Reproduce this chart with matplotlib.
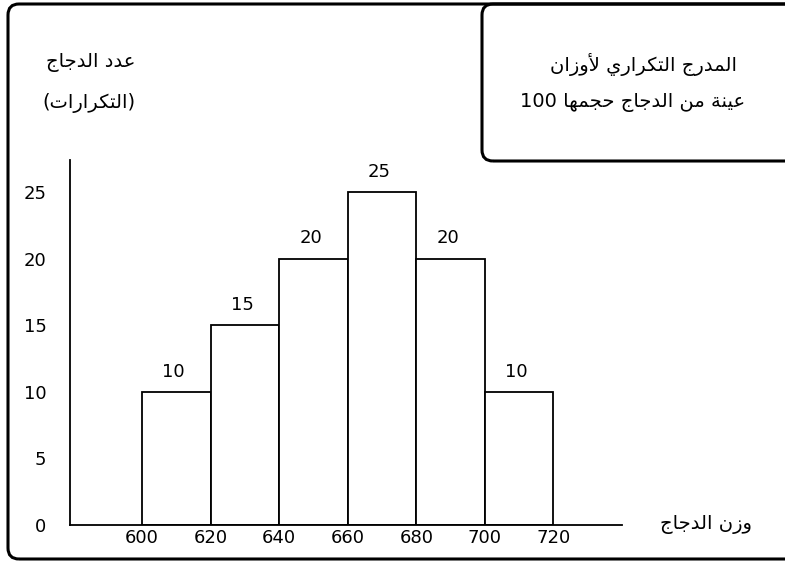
"""Histogram of chicken weights (Arabic labels)."""

import matplotlib
matplotlib.use("Agg")
import matplotlib.pyplot as plt
from matplotlib.patches import FancyBboxPatch

# data
bin_edges = [600, 620, 640, 660, 680, 700, 720]
counts = [10, 15, 20, 25, 20, 10]
y_ticks = [0, 5, 10, 15, 20, 25]

title_line1 = "المدرج التكراري لأوزان"
title_line2 = "عينة من الدجاج حجمها"
sample_size = "100"
ylabel_line1 = "عدد الدجاج"
ylabel_line2 = "التكرارات"
xlabel = "وزن الدجاج"

# Arabic presentation forms: isolated, final, initial, medial
FORMS = {
    'ا': ('\uFE8D', '\uFE8E', None, None),
    'أ': ('\uFE83', '\uFE84', None, None),
    'ة': ('\uFE93', '\uFE94', None, None),
    'ت': ('\uFE95', '\uFE96', '\uFE97', '\uFE98'),
    'ج': ('\uFE9D', '\uFE9E', '\uFE9F', '\uFEA0'),
    'ح': ('\uFEA1', '\uFEA2', '\uFEA3', '\uFEA4'),
    'د': ('\uFEA9', '\uFEAA', None, None),
    'ر': ('\uFEAD', '\uFEAE', None, None),
    'ز': ('\uFEAF', '\uFEB0', None, None),
    'ع': ('\uFEC9', '\uFECA', '\uFECB', '\uFECC'),
    'ك': ('\uFED9', '\uFEDA', '\uFEDB', '\uFEDC'),
    'ل': ('\uFEDD', '\uFEDE', '\uFEDF', '\uFEE0'),
    'م': ('\uFEE1', '\uFEE2', '\uFEE3', '\uFEE4'),
    'ن': ('\uFEE5', '\uFEE6', '\uFEE7', '\uFEE8'),
    'ه': ('\uFEE9', '\uFEEA', '\uFEEB', '\uFEEC'),
    'و': ('\uFEED', '\uFEEE', None, None),
    'ي': ('\uFEF1', '\uFEF2', '\uFEF3', '\uFEF4'),
}
LAM_ALEF = {'ا': ('\uFEFB', '\uFEFC'), 'أ': ('\uFEF7', '\uFEF8')}


def dual(c):
    return c in FORMS and FORMS[c][2] is not None


def shape(text):
    """Very small Arabic shaper: contextual forms + visual (reversed) order."""
    out = []
    i = 0
    while i < len(text):
        c = text[i]
        prev = text[i - 1] if i > 0 else ''
        if c not in FORMS:
            out.append(c)
            i += 1
            continue
        join_prev = dual(prev)
        if c == 'ل' and i + 1 < len(text) and text[i + 1] in LAM_ALEF:
            out.append(LAM_ALEF[text[i + 1]][1 if join_prev else 0])
            i += 2
            continue
        nxt = text[i + 1] if i + 1 < len(text) else ''
        join_next = dual(c) and nxt in FORMS
        iso, fin, ini, med = FORMS[c]
        if join_prev and join_next:
            out.append(med)
        elif join_prev:
            out.append(fin)
        elif join_next:
            out.append(ini)
        else:
            out.append(iso)
        i += 1
    return ''.join(reversed(out))


plt.rcParams['font.family'] = ['DejaVu Sans']

W, H = 785, 562
fig = plt.figure(figsize=(W / 100, H / 100), dpi=100)

# outer frame and title box (figure pixel coords -> fraction)
def fx(px):
    return px / W


def fy(py):
    return 1 - py / H


frame = FancyBboxPatch((fx(8), fy(559)), fx(800) - fx(8), fy(4) - fy(559),
                       boxstyle="round,pad=0,rounding_size=0.014",
                       transform=fig.transFigure, fill=False, lw=2.2, ec='black',
                       mutation_aspect=W / H)
fig.patches.append(frame)
tbox = FancyBboxPatch((fx(482), fy(161)), fx(800) - fx(482), fy(4) - fy(161),
                      boxstyle="round,pad=0,rounding_size=0.014",
                      transform=fig.transFigure, fill=False, lw=2.2, ec='black',
                      mutation_aspect=W / H)
fig.patches.append(tbox)

ax = fig.add_axes([fx(70), fy(525), fx(622) - fx(70), fy(160) - fy(525)])
ax.bar(bin_edges[:-1], counts, width=20, align='edge',
       color='white', edgecolor='black', linewidth=1.3)
for left, c in zip(bin_edges[:-1], counts):
    ax.annotate(str(c), (left + 10, c), xytext=(-2, 8), textcoords='offset points',
                ha='center', va='bottom', fontsize=13)

ax.set_xlim(579, 740)
ax.set_ylim(0, 27.4)
ax.set_xticks(bin_edges)
ax.set_yticks(y_ticks)
ax.tick_params(axis='both', length=0, labelsize=13)
ax.tick_params(axis='x', pad=3)
ax.tick_params(axis='y', pad=17)
for s in ['top', 'right']:
    ax.spines[s].set_visible(False)
for s in ['left', 'bottom']:
    ax.spines[s].set_linewidth(1.3)
ax.patch.set_visible(False)

fig.text(fx(91), fy(63), shape(ylabel_line1), ha='center', va='center', fontsize=14)
fig.text(fx(89), fy(103), '(' + shape(ylabel_line2) + ')', ha='center', va='center', fontsize=14)
fig.text(fx(643), fy(65), shape(title_line1), ha='center', va='center', fontsize=14)
fig.text(fx(633), fy(102), sample_size + ' ' + shape(title_line2),
         ha='center', va='center', fontsize=14)
fig.text(fx(706), fy(525), shape(xlabel), ha='center', va='center', fontsize=14)

fig.savefig("out.png", dpi=100)
